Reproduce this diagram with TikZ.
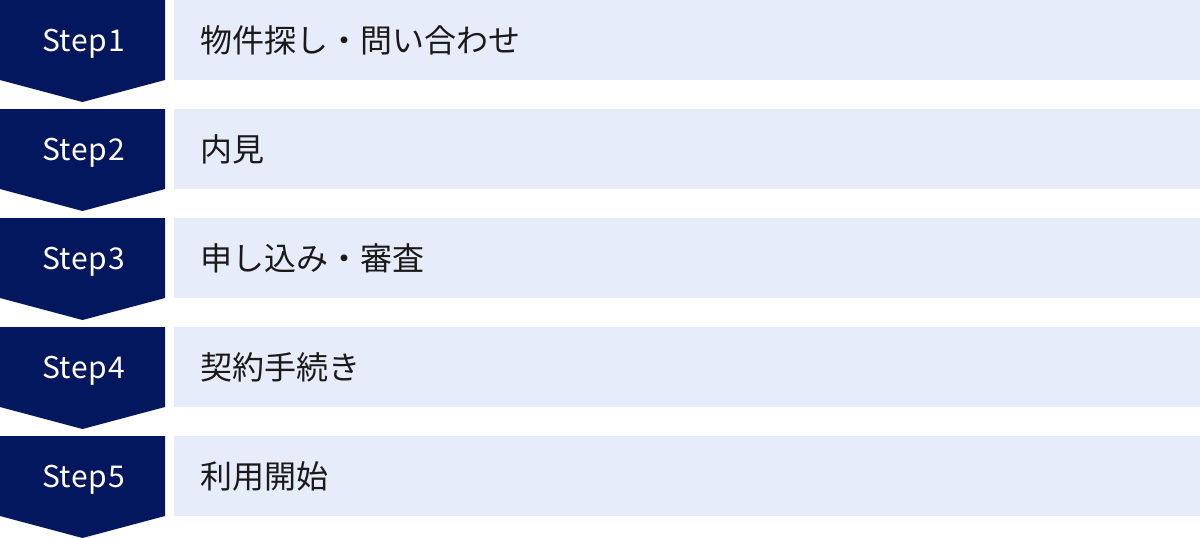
\documentclass[tikz,border=0pt]{standalone}
\usepackage{fontspec}
\setmainfont{Noto Sans CJK JP}
\newfontfamily\stepfont[LetterSpace=2.5]{Noto Sans CJK JP}
\definecolor{navy}{HTML}{03175F}
\definecolor{lightbox}{HTML}{E6ECF9}
\definecolor{txt}{HTML}{1A1A1A}
\begin{document}
\begin{tikzpicture}[x=1pt,y=-1pt,
  steplabel/.style={text=white,font=\stepfont\fontsize{30}{34}\selectfont,inner sep=0pt,anchor=center},
  itemlabel/.style={text=txt,font=\fontsize{32}{36}\selectfont,inner sep=0pt,anchor=west},
  itembox/.style={fill=lightbox,draw=none},
  chevron/.style={fill=navy,draw=none}]
\useasboundingbox[fill=white] (0,0) rectangle (1200,538);
\foreach \i/\t in {1/物件探し・問い合わせ,2/内見,3/申し込み・審査,4/契約手続き,5/利用開始}{
  \pgfmathsetmacro{\y}{(\i-1)*109}
  \fill[chevron] (0,\y) -- (165,\y) -- (165,\y+80) -- (82.5,\y+102) -- (0,\y+80) -- cycle;
  \fill[itembox] (174,\y) rectangle (1200,\y+80);
  \node[steplabel] (s\i) at (83.5,\y+44) {Step\i};
  \node[itemlabel] (t\i) at (200,\y+40) {\t};
}
\end{tikzpicture}
\end{document}
